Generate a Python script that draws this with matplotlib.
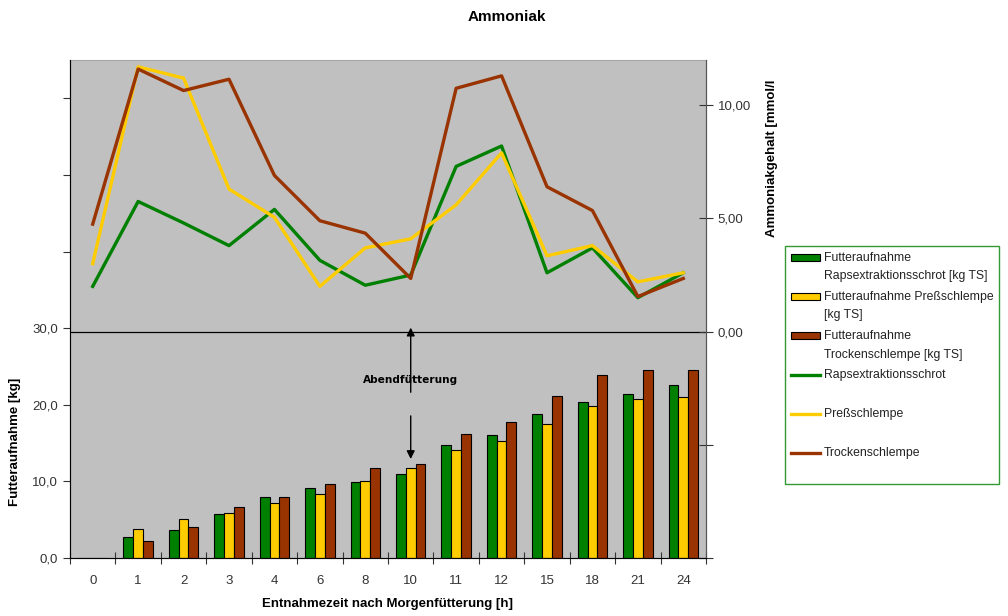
import numpy as np
import matplotlib.pyplot as plt
from matplotlib.patches import Rectangle
from matplotlib.lines import Line2D
from matplotlib.legend_handler import HandlerPatch, HandlerLine2D
from matplotlib.ticker import FixedLocator, FixedFormatter

plt.rcParams['font.family'] = ['Liberation Sans', 'DejaVu Sans']

# Entnahmezeitpunkte
zeiten = ["0", "1", "2", "3", "4", "6", "8", "10", "11", "12", "15", "18", "21", "24"]

# Futteraufnahme [kg TS]
fa_raps = [0, 2.7, 3.7, 5.7, 8.0, 9.2, 9.9, 11.0, 14.7, 16.0, 18.8, 20.3, 21.4, 22.6]
fa_press = [0, 3.8, 5.1, 5.9, 7.2, 8.3, 10.0, 11.7, 14.1, 15.3, 17.5, 19.9, 20.8, 21.0]
fa_trocken = [0, 2.2, 4.0, 6.6, 8.0, 9.7, 11.7, 12.3, 16.2, 17.8, 21.2, 23.9, 24.6, 24.6]

# Ammoniakgehalt [mmol/l]
nh3_raps = [2.0, 5.75, 4.8, 3.8, 5.4, 3.15, 2.05, 2.5, 7.3, 8.2, 2.6, 3.7, 1.5, 2.6]
nh3_press = [3.0, 11.7, 11.2, 6.3, 5.05, 2.0, 3.7, 4.1, 5.6, 7.9, 3.35, 3.8, 2.2, 2.6]
nh3_trocken = [4.75, 11.6, 10.65, 11.15, 6.9, 4.9, 4.35, 2.35, 10.75, 11.3, 6.4, 5.35, 1.55, 2.35]

gruen = "#008000"
gelb = "#FFCC00"
braun = "#993300"

fig = plt.figure(figsize=(10.08, 6.16), dpi=100)
ax = fig.add_axes([70 / 1008, 58 / 616, 636 / 1008, 498 / 616])
ax.set_facecolor("#C0C0C0")

x = np.arange(len(zeiten))
w = 0.215
b1 = ax.bar(x - w, fa_raps, w, color=gruen, edgecolor="black", linewidth=0.8)
b2 = ax.bar(x, fa_press, w, color=gelb, edgecolor="black", linewidth=0.8)
b3 = ax.bar(x + w, fa_trocken, w, color=braun, edgecolor="black", linewidth=0.8)

ax.set_xlim(-0.5, len(zeiten) - 0.5)
ax.set_ylim(0, 65)
ax.set_yticks([0, 10, 20, 30, 40, 50, 60])
ax.set_yticklabels(["0,0", "10,0", "20,0", "30,0", "", "", ""])
ax.xaxis.set_major_locator(FixedLocator(np.arange(len(zeiten) + 1) - 0.5))
ax.xaxis.set_major_formatter(FixedFormatter([""] * (len(zeiten) + 1)))
ax.xaxis.set_minor_locator(FixedLocator(x))
ax.xaxis.set_minor_formatter(FixedFormatter(zeiten))
ax.tick_params(axis="x", which="major", direction="inout", length=8, color="#333333")
ax.tick_params(axis="x", which="minor", length=0, pad=12, labelsize=9.5, labelcolor="#333333")
ax.tick_params(axis="y", direction="out", length=5, labelsize=9.5, labelcolor="#333333", color="#333333")
for s in ["left", "right", "bottom"]:
    ax.spines[s].set_color("#555555")
ax.spines["top"].set_color("#A8A8A8")

ax2 = ax.twinx()
l1, = ax2.plot(x, nh3_raps, color=gruen, lw=2.4)
l2, = ax2.plot(x, nh3_press, color=gelb, lw=2.4)
l3, = ax2.plot(x, nh3_trocken, color=braun, lw=2.4)
ax2.axhline(0, color="black", lw=0.9, zorder=1)
ax2.set_ylim(-10, 12)
ax2.set_yticks([-10, -5, 0, 5, 10])
ax2.set_yticklabels(["", "", "0,00", "5,00", "10,00"])
ax2.tick_params(axis="y", direction="inout", length=10, labelsize=9.5, labelcolor="#333333", color="#333333")
ax2.spines["right"].set_color("#555555")
ax2.spines["top"].set_visible(False)

# Abendfütterung
ax2.annotate("", xy=(7, 0.3), xytext=(7, -2.8),
             arrowprops=dict(arrowstyle="-|>", color="black", lw=1, mutation_scale=12))
ax2.annotate("", xy=(7, -5.75), xytext=(7, -3.6),
             arrowprops=dict(arrowstyle="-|>", color="black", lw=1, mutation_scale=12))
ax2.text(7, -2.15, "Abendfütterung", ha="center", va="center", fontsize=7.6,
         fontweight="bold", family="DejaVu Sans")

fig.text(507 / 1008, 1 - 17 / 616, "Ammoniak", ha="center", va="center", fontsize=11, fontweight="bold")
fig.text(388 / 1008, 1 - 604 / 616, "Entnahmezeit nach Morgenfütterung [h]", ha="center", va="center",
         fontsize=9.5, fontweight="bold")
fig.text(15 / 1008, 1 - 442 / 616, "Futteraufnahme [kg]", ha="center", va="center",
         rotation=90, fontsize=9.5, fontweight="bold")
fig.text(772 / 1008, 1 - 158 / 616, "Ammoniakgehalt [mmol/l", ha="center", va="center",
         rotation=90, fontsize=9.5, fontweight="bold")

# Legendensymbole auf Höhe der ersten Textzeile
Y_OBEN = 1.15


def kleines_rechteck(legend, orig_handle, xdescent, ydescent, width, height, fontsize):
    h = 0.62 * fontsize
    yc = Y_OBEN * fontsize
    return Rectangle((-xdescent, yc - h / 2), width, h)


class OberesLinienHandle(HandlerLine2D):
    def create_artists(self, legend, orig_handle, xdescent, ydescent, width, height, fontsize, trans):
        yc = Y_OBEN * fontsize
        ln = Line2D([-xdescent, -xdescent + width], [yc, yc])
        self.update_prop(ln, orig_handle, legend)
        ln.set_transform(trans)
        return [ln]


balken = [b1.patches[0], b2.patches[0], b3.patches[0]]
hmap = {p: HandlerPatch(patch_func=kleines_rechteck) for p in balken}
hmap.update({l: OberesLinienHandle() for l in [l1, l2, l3]})
leg = fig.legend(balken + [l1, l2, l3],
                 ["Futteraufnahme\nRapsextraktionsschrot [kg TS]",
                  "Futteraufnahme Preßschlempe\n[kg TS]",
                  "Futteraufnahme\nTrockenschlempe [kg TS]",
                  "Rapsextraktionsschrot\n", "Preßschlempe\n", "Trockenschlempe\n"],
                 loc="upper left", bbox_to_anchor=(785 / 1008, 1 - 246 / 616),
                 fontsize=8.8, frameon=True, fancybox=False, handlelength=2.45,
                 handletextpad=0.3, labelspacing=0.68, handleheight=0.7,
                 borderpad=0.45, borderaxespad=0, handler_map=hmap)
leg.get_frame().set_edgecolor(gruen)
leg.get_frame().set_linewidth(1.0)
for t in leg.get_texts():
    t.set_color("#222222")
    t.set_linespacing(1.76)

fig.savefig("out.png", dpi=100)
